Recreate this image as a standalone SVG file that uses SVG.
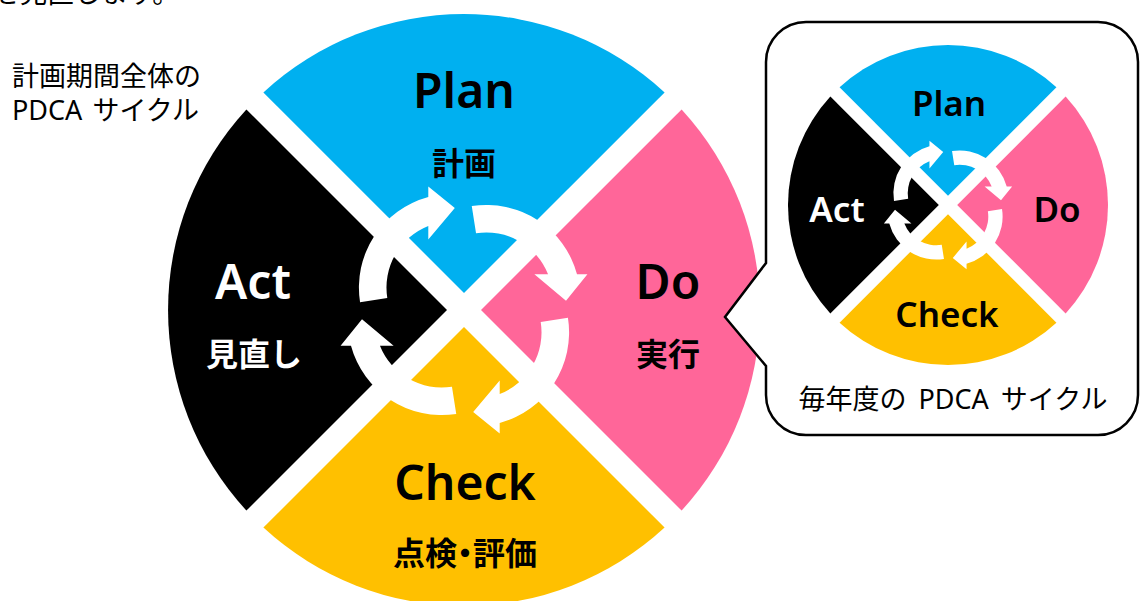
<svg xmlns="http://www.w3.org/2000/svg" xmlns:xlink="http://www.w3.org/1999/xlink" width="1141" height="601" viewBox="0 0 1141 601">
<style>
  .plan{fill:#00B0F0}
  .do{fill:#FF6699}
  .check{fill:#FFC000}
  .act{fill:#000000}
  .arrow{fill:#FFFFFF}
  .en{font-family:"Noto Sans","Liberation Sans","Noto Sans CJK JP",sans-serif;font-weight:600;text-anchor:middle}
  .jp{font-family:"Noto Sans CJK JP",sans-serif;font-weight:700;text-anchor:middle}
  .big{font-size:48px}
  .mid{font-size:32px}
  .small{font-size:35px}
  .note{font-family:"Noto Sans","Noto Sans CJK JP",sans-serif;font-weight:400;font-size:27px;fill:#000}
  .blk{fill:#000}
  .wht{fill:#FFF}
  .callout{fill:#FFF;stroke:#000;stroke-width:2.5;stroke-linejoin:miter}
</style>
<defs>
  <path id="arr" d="M 7.6,-101.9 A 92 92 0 0 1 110.8,-35 L 121,-35 L 100,-9 L 69,-35 L 82.4,-35 A 65 65 0 0 0 11.8,-75.2 Z"/>
</defs>
<rect width="1141" height="601" fill="#FFFFFF"/>

<text class="note" x="-7" y="3">を見直します。</text>

<g id="caption-main">
  <text class="note" x="12" y="86">計画期間全体の</text>
  <text class="note" x="12" y="120" word-spacing="3">PDCA サイクル</text>
</g>

<g id="big-plan">
  <path class="plan" d="M 464,293 L 263.4,92.4 A 296 296 0 0 1 664.6,92.4 Z"/>
  <text class="en big blk" x="464" y="108">Plan</text>
  <text class="jp mid blk" x="464" y="175">計画</text>
</g>
<g id="big-do">
  <path class="do" d="M 481,310 L 681.6,109.4 A 296 296 0 0 1 681.6,510.6 Z"/>
  <text class="en big blk" x="668" y="299">Do</text>
  <text class="jp mid blk" x="668" y="366">実行</text>
</g>
<g id="big-check">
  <path class="check" d="M 464,327 L 664.6,527.6 A 296 296 0 0 1 263.4,527.6 Z"/>
  <text class="en big blk" x="465" y="500">Check</text>
  <text class="jp mid blk" x="465" y="565" style="font-feature-settings:'palt'">点検・評価</text>
</g>
<g id="big-act">
  <path class="act" d="M 447,310 L 246.4,510.6 A 296 296 0 0 1 246.4,109.4 Z"/>
  <text class="en big wht" x="253" y="299">Act</text>
  <text class="jp mid wht" x="254" y="366">見直し</text>
</g>

<g id="big-arrows">
  <use xlink:href="#arr" href="#arr" class="arrow" transform="translate(464,310) rotate(-90) scale(1.02)"/>
  <use xlink:href="#arr" href="#arr" class="arrow" transform="translate(464,310) scale(1.02)"/>
  <use xlink:href="#arr" href="#arr" class="arrow" transform="translate(464,310) rotate(90) scale(1.02)"/>
  <use xlink:href="#arr" href="#arr" class="arrow" transform="translate(464,310) rotate(180) scale(1.02)"/>
</g>

<g id="callout">
  <path class="callout" d="M 806,22 H 1098 A 40 40 0 0 1 1138,62 V 395 A 40 40 0 0 1 1098,435 H 806 A 40 40 0 0 1 766,395 V 366 L 725,317 L 766,263 V 62 A 40 40 0 0 1 806,22 Z"/>
  <text class="note" x="953" y="409" text-anchor="middle" word-spacing="5">毎年度の PDCA サイクル</text>
</g>

<g id="small-plan">
  <path class="plan" d="M 948,195.8 L 839.55,87.35 A 160 160 0 0 1 1056.45,87.35 Z"/>
  <text class="en small blk" x="949" y="116">Plan</text>
</g>
<g id="small-do">
  <path class="do" d="M 957.2,205 L 1065.65,96.55 A 160 160 0 0 1 1065.65,313.45 Z"/>
  <text class="en small blk" x="1057" y="222">Do</text>
</g>
<g id="small-check">
  <path class="check" d="M 948,214.2 L 1056.45,322.65 A 160 160 0 0 1 839.55,322.65 Z"/>
  <text class="en small blk" x="947" y="327">Check</text>
</g>
<g id="small-act">
  <path class="act" d="M 938.8,205 L 830.35,313.45 A 160 160 0 0 1 830.35,96.55 Z"/>
  <text class="en small wht" x="837" y="222">Act</text>
</g>

<g id="small-arrows">
  <use xlink:href="#arr" href="#arr" class="arrow" transform="translate(948,205) rotate(-90) scale(0.53)"/>
  <use xlink:href="#arr" href="#arr" class="arrow" transform="translate(948,205) scale(0.53)"/>
  <use xlink:href="#arr" href="#arr" class="arrow" transform="translate(948,205) rotate(90) scale(0.53)"/>
  <use xlink:href="#arr" href="#arr" class="arrow" transform="translate(948,205) rotate(180) scale(0.53)"/>
</g>
</svg>
